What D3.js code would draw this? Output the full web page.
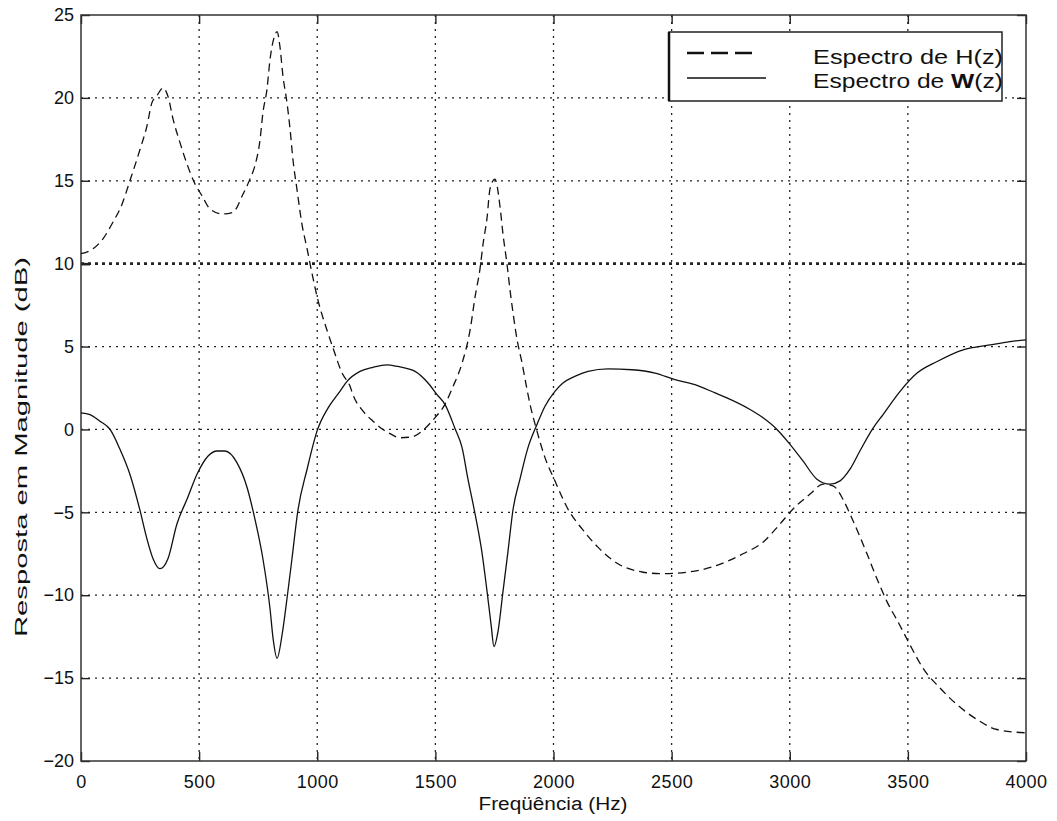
<!DOCTYPE html>
<html>
<head>
<meta charset="utf-8">
<script src="https://cdn.jsdelivr.net/npm/d3@7/dist/d3.min.js"></script>
<style>
  html, body { margin: 0; padding: 0; background: #fff; }
  svg { display: block; }
  text { font-family: "Liberation Sans", Arial, Helvetica, sans-serif; fill: #111; }
</style>
</head>
<body>
<svg id="chart" width="1057" height="821"></svg>
<script>
// ---- Data ----
const xTicks = [0, 500, 1000, 1500, 2000, 2500, 3000, 3500, 4000];
const yTicks = [-20, -15, -10, -5, 0, 5, 10, 15, 20, 25];

const hFreq = [0, 51, 93, 135, 174, 207, 250, 279, 300, 320, 347, 368, 390, 419, 449, 483, 512, 546, 597, 643, 686, 715, 736, 758, 770, 787, 800, 821, 830, 842, 855, 872, 885, 897, 914, 935, 957, 978, 1003, 1041, 1067, 1105, 1139, 1151, 1194, 1236, 1278, 1308, 1350, 1400, 1456, 1498, 1540, 1575, 1613, 1647, 1668, 1689, 1702, 1719, 1731, 1752, 1774, 1786, 1803, 1816, 1829, 1846, 1867, 1888, 1901, 1930, 1964, 2006, 2061, 2121, 2188, 2273, 2375, 2459, 2570, 2671, 2802, 2887, 2959, 3014, 3086, 3141, 3183, 3225, 3255, 3289, 3327, 3369, 3412, 3458, 3509, 3564, 3636, 3708, 3793, 3877, 4000];
const hDb   = [10.6, 10.9, 11.5, 12.5, 13.6, 15.0, 16.9, 18.3, 19.7, 20.1, 20.6, 20.1, 18.7, 17.3, 16.0, 14.8, 14.1, 13.3, 13.0, 13.1, 14.2, 15.1, 15.9, 17.5, 19.1, 20.5, 22.3, 23.8, 24.0, 23.1, 21.3, 19.7, 18.1, 16.3, 14.5, 12.4, 10.9, 9.4, 7.8, 6.0, 4.9, 3.4, 2.6, 2.1, 1.1, 0.5, 0.0, -0.25, -0.5, -0.45, 0.06, 0.7, 1.5, 2.6, 4.0, 6.0, 8.0, 9.7, 11.2, 12.8, 14.5, 15.1, 13.4, 11.8, 10.0, 8.4, 7.0, 5.4, 4.0, 2.4, 1.5, -0.1, -1.7, -3.1, -4.8, -6.0, -7.1, -8.1, -8.6, -8.7, -8.6, -8.3, -7.5, -6.8, -5.7, -4.8, -3.9, -3.3, -3.4, -4.2, -5.1, -6.2, -7.5, -9.0, -10.4, -11.6, -13.0, -14.4, -15.6, -16.6, -17.5, -18.1, -18.3];

const wFreq = [0, 38, 80, 123, 165, 207, 250, 279, 305, 334, 368, 406, 449, 491, 538, 576, 609, 660, 703, 736, 770, 800, 813, 830, 851, 872, 893, 918, 957, 999, 1046, 1096, 1126, 1181, 1236, 1295, 1340, 1414, 1469, 1507, 1541, 1583, 1613, 1638, 1668, 1697, 1719, 1736, 1748, 1765, 1786, 1807, 1829, 1858, 1892, 1930, 1964, 2006, 2040, 2090, 2146, 2231, 2332, 2430, 2514, 2599, 2684, 2734, 2832, 2887, 2946, 3001, 3056, 3115, 3170, 3213, 3255, 3297, 3352, 3395, 3467, 3539, 3624, 3734, 3848, 3932, 4000];
const wDb   = [1.0, 0.9, 0.5, 0.0, -1.2, -2.7, -4.9, -6.6, -7.8, -8.4, -7.8, -5.7, -4.2, -2.7, -1.6, -1.3, -1.3, -2.0, -3.5, -5.4, -7.8, -10.8, -12.6, -13.8, -12.4, -10.2, -7.8, -4.9, -2.4, -0.1, 1.3, 2.3, 2.9, 3.5, 3.75, 3.9, 3.8, 3.5, 2.8, 2.1, 1.5, 0.06, -1.1, -3.0, -5.1, -7.4, -9.8, -11.8, -13.1, -12.2, -9.8, -7.4, -4.8, -3.0, -1.1, 0.3, 1.4, 2.3, 2.8, 3.2, 3.5, 3.65, 3.6, 3.4, 3.0, 2.7, 2.2, 1.9, 1.2, 0.7, 0.0, -0.9, -1.9, -3.0, -3.3, -3.1, -2.4, -1.3, 0.06, 0.9, 2.3, 3.4, 4.1, 4.8, 5.1, 5.3, 5.4];

const legendLabels = ["Espectro de H(z)", "Espectro de W(z)"];
const xLabel = "Freqüência (Hz)";
const yLabel = "Resposta em Magnitude (dB)";

// ---- Layout ----
const svg = d3.select("#chart");
const L = 81, R = 1026, T = 15, B = 761;
const x = d3.scaleLinear().domain([0, 4000]).range([L, R]);
const y = d3.scaleLinear().domain([-20, 25]).range([B, T]);

// grid (dotted)
const grid = svg.append("g");
grid.selectAll("line.vx").data(xTicks.slice(1, -1)).join("line")
  .attr("x1", d => x(d)).attr("x2", d => x(d)).attr("y1", T).attr("y2", B)
  .attr("stroke", "#222").attr("stroke-width", 1.3).attr("stroke-dasharray", "2,5");
grid.selectAll("line.hy").data(yTicks.slice(1, -1)).join("line")
  .attr("x1", L).attr("x2", R).attr("y1", d => y(d)).attr("y2", d => y(d))
  .attr("stroke", "#222").attr("stroke-width", d => d === 10 ? 2.6 : 1.3)
  .attr("stroke-dasharray", d => d === 10 ? "3,4" : "2,5");

// axes
const tickLen = 9;
const axB = svg.append("g").attr("transform", `translate(0,${B})`)
  .call(d3.axisBottom(x).tickValues(xTicks).tickSize(-tickLen).tickPadding(14).tickFormat(d3.format("d")));
const axT = svg.append("g").attr("transform", `translate(0,${T})`)
  .call(d3.axisTop(x).tickValues(xTicks).tickSize(-tickLen).tickFormat(""));
const axL = svg.append("g").attr("transform", `translate(${L},0)`)
  .call(d3.axisLeft(y).tickValues(yTicks).tickSize(-tickLen).tickPadding(7).tickFormat(d => d < 0 ? "\u2212" + Math.abs(d) : d));
const axR = svg.append("g").attr("transform", `translate(${R},0)`)
  .call(d3.axisRight(y).tickValues(yTicks).tickSize(-tickLen).tickFormat(""));
[axB, axT, axL, axR].forEach(a => {
  a.select(".domain").remove();
  a.selectAll(".tick line").attr("stroke", "#222").attr("stroke-width", 1.4);
  a.selectAll("text").style("font-size", "18px").style("font-family", "'Liberation Sans', Arial, sans-serif").attr("fill", "#111");
});
axL.selectAll(".tick").filter(d => d === 10).select("line").attr("stroke-width", 2.6);
axB.selectAll("text").attr("letter-spacing", "0.5px");

// frame
svg.append("rect").attr("x", L).attr("y", T).attr("width", R - L).attr("height", B - T)
  .attr("fill", "none").attr("stroke", "#333").attr("stroke-width", 1.5);

// curves
const line = d3.line().x(d => x(d[0])).y(d => y(d[1])).curve(d3.curveMonotoneX);
svg.append("path").datum(hFreq.map((f, i) => [f, hDb[i]]))
  .attr("d", line).attr("fill", "none").attr("stroke", "#111")
  .attr("stroke-width", 1.3).attr("stroke-dasharray", "8,5");
svg.append("path").datum(wFreq.map((f, i) => [f, wDb[i]]))
  .attr("d", line).attr("fill", "none").attr("stroke", "#111").attr("stroke-width", 1.3);

// labels
svg.append("text").attr("x", 553).attr("y", 810).attr("text-anchor", "middle")
  .style("font-size", "18px").attr("textLength", 149).attr("lengthAdjust", "spacingAndGlyphs").text(xLabel);
svg.append("text").attr("transform", "translate(27,447) rotate(-90)").attr("text-anchor", "middle")
  .style("font-size", "17px").attr("textLength", 380).attr("lengthAdjust", "spacingAndGlyphs").text(yLabel);

// legend
const lg = svg.append("g");
lg.append("rect").attr("x", 669).attr("y", 32).attr("width", 333).attr("height", 69)
  .attr("fill", "#fff").attr("stroke", "#222").attr("stroke-width", 1.5);
lg.append("line").attr("x1", 669).attr("x2", 669).attr("y1", 32).attr("y2", 101)
  .attr("stroke", "#111").attr("stroke-width", 2.5);
lg.append("line").attr("x1", 687).attr("x2", 752).attr("y1", 53).attr("y2", 53)
  .attr("stroke", "#111").attr("stroke-width", 2.5).attr("stroke-dasharray", "17,7");
lg.append("line").attr("x1", 687).attr("x2", 766).attr("y1", 78).attr("y2", 78)
  .attr("stroke", "#111").attr("stroke-width", 1.3);
lg.selectAll("text.leg").data(legendLabels).join("text")
  .attr("x", 813).attr("y", (d, i) => 64 + i * 24)
  .style("font-size", "21px")
  .attr("textLength", 190).attr("lengthAdjust", "spacingAndGlyphs")
  .each(function(d) {
    const t = d3.select(this);
    const idx = d.indexOf("W(");
    if (idx >= 0) {
      t.append("tspan").text(d.slice(0, idx));
      t.append("tspan").attr("font-weight", "bold").text("W");
      t.append("tspan").text(d.slice(idx + 1));
    } else {
      t.text(d);
    }
  });
</script>
</body>
</html>
